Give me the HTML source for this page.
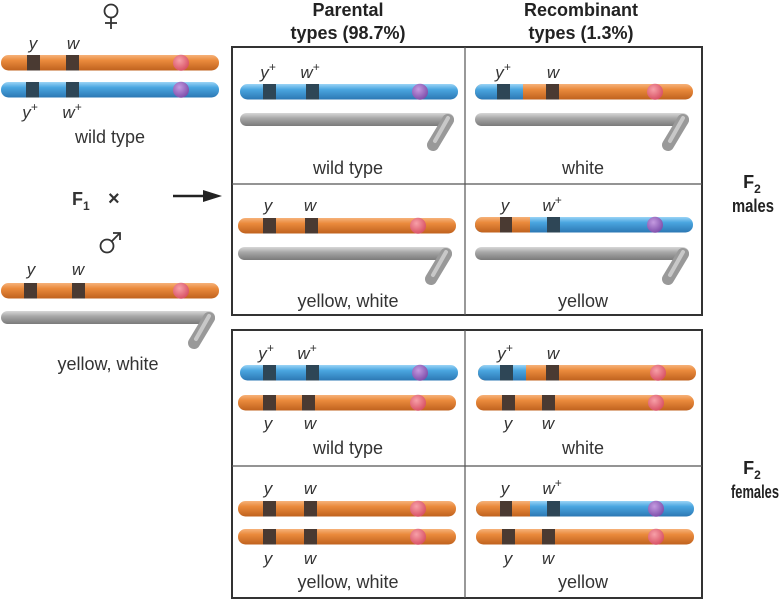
<!DOCTYPE html>
<html><head><meta charset="utf-8"><style>
html,body{margin:0;padding:0;background:#fff;}
svg{display:block;font-family:"Liberation Sans","DejaVu Sans",sans-serif;}
.l{font-size:17px;font-style:italic;fill:#333;}
.t{font-size:18px;fill:#333;}
.h{font-size:18px;font-weight:bold;fill:#222;}
</style></head><body>
<svg width="780" height="600" viewBox="0 0 780 600">
<defs>
<linearGradient id="go" x1="0" y1="0" x2="0" y2="1"><stop offset="0" stop-color="#f6b27a"/><stop offset="0.35" stop-color="#ea8a3c"/><stop offset="1" stop-color="#c0621e"/></linearGradient>
<linearGradient id="gb" x1="0" y1="0" x2="0" y2="1"><stop offset="0" stop-color="#9ad4f6"/><stop offset="0.35" stop-color="#4aa6e0"/><stop offset="1" stop-color="#2c78b4"/></linearGradient>
<linearGradient id="gg" x1="0" y1="0" x2="0" y2="1"><stop offset="0" stop-color="#d8d8d8"/><stop offset="0.4" stop-color="#a8a8a8"/><stop offset="1" stop-color="#7a7a7a"/></linearGradient>
<radialGradient id="gp" cx="0.4" cy="0.35" r="0.7"><stop offset="0" stop-color="#f7a0a8"/><stop offset="1" stop-color="#d64c60"/></radialGradient>
<radialGradient id="gv" cx="0.4" cy="0.35" r="0.7"><stop offset="0" stop-color="#c49ae0"/><stop offset="1" stop-color="#7a4aa8"/></radialGradient>
<g id="O"><rect x="0" y="0" width="218" height="15.5" rx="7.5" fill="url(#go)"/><circle cx="180" cy="7.75" r="8" fill="url(#gp)"/></g>
<g id="B"><rect x="0" y="0" width="218" height="15.5" rx="7.5" fill="url(#gb)"/><circle cx="180" cy="7.75" r="8" fill="url(#gv)"/></g>
<g id="Y"><rect x="0" y="0" width="214" height="13" rx="6.5" fill="url(#gg)"/><line x1="208" y1="7" x2="193" y2="32" stroke="#999" stroke-width="12" stroke-linecap="round"/><line x1="208" y1="5" x2="195" y2="28" stroke="#c8c8c8" stroke-width="4" stroke-linecap="round"/></g>
</defs>

<!-- headers -->
<text class="h" x="348" y="16" text-anchor="middle">Parental</text>
<text class="h" x="348" y="39" text-anchor="middle">types (98.7%)</text>
<text class="h" x="581" y="16" text-anchor="middle">Recombinant</text>
<text class="h" x="581" y="39" text-anchor="middle">types (1.3%)</text>

<!-- boxes -->
<rect x="232" y="47" width="470" height="268" fill="none" stroke="#333" stroke-width="2"/>
<line x1="465" y1="47" x2="465" y2="315" stroke="#555" stroke-width="1.2"/>
<line x1="232" y1="184" x2="702" y2="184" stroke="#555" stroke-width="1.2"/>
<rect x="232" y="330" width="470" height="268" fill="none" stroke="#333" stroke-width="2"/>
<line x1="465" y1="330" x2="465" y2="598" stroke="#555" stroke-width="1.2"/>
<line x1="232" y1="466" x2="702" y2="466" stroke="#555" stroke-width="1.2"/>

<!-- left female -->
<g stroke="#333" stroke-width="1.8" fill="none">
<circle cx="111" cy="11" r="6.5"/><line x1="111" y1="17.5" x2="111" y2="29"/><line x1="105" y1="23" x2="117" y2="23"/>
<circle cx="107" cy="246" r="6.5"/><line x1="111.5" y1="241.5" x2="120" y2="233"/><polyline points="113,233 120,233 120,240"/>
</g>
<text class="l" x="33" y="49" text-anchor="middle">y</text>
<text class="l" x="73" y="49" text-anchor="middle">w</text>
<use href="#O" x="1" y="55"/>
<rect x="27" y="55" width="13" height="15.5" fill="#4a3a32"/>
<rect x="66" y="55" width="13" height="15.5" fill="#4a3a32"/>
<use href="#B" x="1" y="82"/>
<rect x="26" y="82" width="13" height="15.5" fill="#2e4656"/>
<rect x="66" y="82" width="13" height="15.5" fill="#2e4656"/>
<text class="l" x="30" y="118" text-anchor="middle">y<tspan font-size="12" dy="-7">+</tspan></text>
<text class="l" x="72" y="118" text-anchor="middle">w<tspan font-size="12" dy="-7">+</tspan></text>
<text class="t" x="110" y="143" text-anchor="middle">wild type</text>

<text x="72" y="205" font-size="18" font-weight="bold" fill="#333">F<tspan font-size="12" dy="5">1</tspan></text>
<text x="108" y="205" font-size="20" font-weight="bold" fill="#333">×</text>
<line x1="173" y1="196" x2="205" y2="196" stroke="#222" stroke-width="2.5"/>
<polygon points="203,190 222,196 203,202" fill="#222"/>

<text class="l" x="31" y="275" text-anchor="middle">y</text>
<text class="l" x="78" y="275" text-anchor="middle">w</text>
<use href="#O" x="1" y="283"/>
<rect x="24" y="283" width="13" height="15.5" fill="#4a3a32"/>
<rect x="72" y="283" width="13" height="15.5" fill="#4a3a32"/>
<use href="#Y" x="1" y="311"/>
<text class="t" x="108" y="370" text-anchor="middle">yellow, white</text>

<!-- males row1 left -->
<text class="l" x="268" y="78" text-anchor="middle">y<tspan font-size="12" dy="-7">+</tspan></text>
<text class="l" x="310" y="78" text-anchor="middle">w<tspan font-size="12" dy="-7">+</tspan></text>
<use href="#B" x="240" y="84"/>
<rect x="263" y="84" width="13" height="15.5" fill="#2e4656"/>
<rect x="306" y="84" width="13" height="15.5" fill="#2e4656"/>
<use href="#Y" x="240" y="113"/>
<text class="t" x="348" y="174" text-anchor="middle">wild type</text>

<!-- males row1 right -->
<text class="l" x="503" y="78" text-anchor="middle">y<tspan font-size="12" dy="-7">+</tspan></text>
<text class="l" x="553" y="78" text-anchor="middle">w</text>
<use href="#O" x="475" y="84"/>
<rect x="475" y="84" width="48" height="15.5" rx="7.5" fill="url(#gb)"/><rect x="485" y="84" width="38" height="15.5" fill="url(#gb)"/>
<rect x="497" y="84" width="13" height="15.5" fill="#2e4656"/>
<rect x="546" y="84" width="13" height="15.5" fill="#4a3a32"/>
<use href="#Y" x="475" y="113"/>
<text class="t" x="583" y="174" text-anchor="middle">white</text>

<!-- males row2 left -->
<text class="l" x="268" y="211" text-anchor="middle">y</text>
<text class="l" x="310" y="211" text-anchor="middle">w</text>
<use href="#O" x="238" y="218"/>
<rect x="263" y="218" width="13" height="15.5" fill="#4a3a32"/>
<rect x="305" y="218" width="13" height="15.5" fill="#4a3a32"/>
<use href="#Y" x="238" y="247"/>
<text class="t" x="348" y="307" text-anchor="middle">yellow, white</text>

<!-- males row2 right -->
<text class="l" x="505" y="211" text-anchor="middle">y</text>
<text class="l" x="552" y="211" text-anchor="middle">w<tspan font-size="12" dy="-7">+</tspan></text>
<use href="#B" x="475" y="217"/>
<rect x="475" y="217" width="55" height="15.5" rx="7.5" fill="url(#go)"/><rect x="485" y="217" width="45" height="15.5" fill="url(#go)"/>
<rect x="500" y="217" width="12" height="15.5" fill="#4a3a32"/>
<rect x="547" y="217" width="13" height="15.5" fill="#2e4656"/>
<use href="#Y" x="475" y="247"/>
<text class="t" x="583" y="307" text-anchor="middle">yellow</text>

<!-- females row1 left -->
<text class="l" x="266" y="359" text-anchor="middle">y<tspan font-size="12" dy="-7">+</tspan></text>
<text class="l" x="307" y="359" text-anchor="middle">w<tspan font-size="12" dy="-7">+</tspan></text>
<use href="#B" x="240" y="365"/>
<rect x="263" y="365" width="13" height="15.5" fill="#2e4656"/>
<rect x="306" y="365" width="13" height="15.5" fill="#2e4656"/>
<use href="#O" x="238" y="395"/>
<rect x="263" y="395" width="13" height="15.5" fill="#4a3a32"/>
<rect x="302" y="395" width="13" height="15.5" fill="#4a3a32"/>
<text class="l" x="268" y="429" text-anchor="middle">y</text>
<text class="l" x="310" y="429" text-anchor="middle">w</text>
<text class="t" x="348" y="454" text-anchor="middle">wild type</text>

<!-- females row1 right -->
<text class="l" x="505" y="359" text-anchor="middle">y<tspan font-size="12" dy="-7">+</tspan></text>
<text class="l" x="553" y="359" text-anchor="middle">w</text>
<use href="#O" x="478" y="365"/>
<rect x="478" y="365" width="48" height="15.5" rx="7.5" fill="url(#gb)"/><rect x="488" y="365" width="38" height="15.5" fill="url(#gb)"/>
<rect x="500" y="365" width="13" height="15.5" fill="#2e4656"/>
<rect x="546" y="365" width="13" height="15.5" fill="#4a3a32"/>
<use href="#O" x="476" y="395"/>
<rect x="502" y="395" width="13" height="15.5" fill="#4a3a32"/>
<rect x="542" y="395" width="13" height="15.5" fill="#4a3a32"/>
<text class="l" x="508" y="429" text-anchor="middle">y</text>
<text class="l" x="548" y="429" text-anchor="middle">w</text>
<text class="t" x="583" y="454" text-anchor="middle">white</text>

<!-- females row2 left -->
<text class="l" x="268" y="494" text-anchor="middle">y</text>
<text class="l" x="310" y="494" text-anchor="middle">w</text>
<use href="#O" x="238" y="501"/>
<rect x="263" y="501" width="13" height="15.5" fill="#4a3a32"/>
<rect x="304" y="501" width="13" height="15.5" fill="#4a3a32"/>
<use href="#O" x="238" y="529"/>
<rect x="263" y="529" width="13" height="15.5" fill="#4a3a32"/>
<rect x="304" y="529" width="13" height="15.5" fill="#4a3a32"/>
<text class="l" x="268" y="564" text-anchor="middle">y</text>
<text class="l" x="310" y="564" text-anchor="middle">w</text>
<text class="t" x="348" y="588" text-anchor="middle">yellow, white</text>

<!-- females row2 right -->
<text class="l" x="505" y="494" text-anchor="middle">y</text>
<text class="l" x="552" y="494" text-anchor="middle">w<tspan font-size="12" dy="-7">+</tspan></text>
<use href="#B" x="476" y="501"/>
<rect x="476" y="501" width="54" height="15.5" rx="7.5" fill="url(#go)"/><rect x="486" y="501" width="44" height="15.5" fill="url(#go)"/>
<rect x="500" y="501" width="12" height="15.5" fill="#4a3a32"/>
<rect x="547" y="501" width="13" height="15.5" fill="#2e4656"/>
<use href="#O" x="476" y="529"/>
<rect x="502" y="529" width="13" height="15.5" fill="#4a3a32"/>
<rect x="542" y="529" width="13" height="15.5" fill="#4a3a32"/>
<text class="l" x="508" y="564" text-anchor="middle">y</text>
<text class="l" x="548" y="564" text-anchor="middle">w</text>
<text class="t" x="583" y="588" text-anchor="middle">yellow</text>

<!-- right labels -->
<text class="h" x="752" y="188" text-anchor="middle">F<tspan font-size="12" dy="5">2</tspan></text>
<text class="h" x="732" y="212" textLength="42" lengthAdjust="spacingAndGlyphs">males</text>
<text class="h" x="752" y="474" text-anchor="middle">F<tspan font-size="12" dy="5">2</tspan></text>
<text class="h" x="731" y="498" textLength="48" lengthAdjust="spacingAndGlyphs">females</text>
</svg>
</body></html>
